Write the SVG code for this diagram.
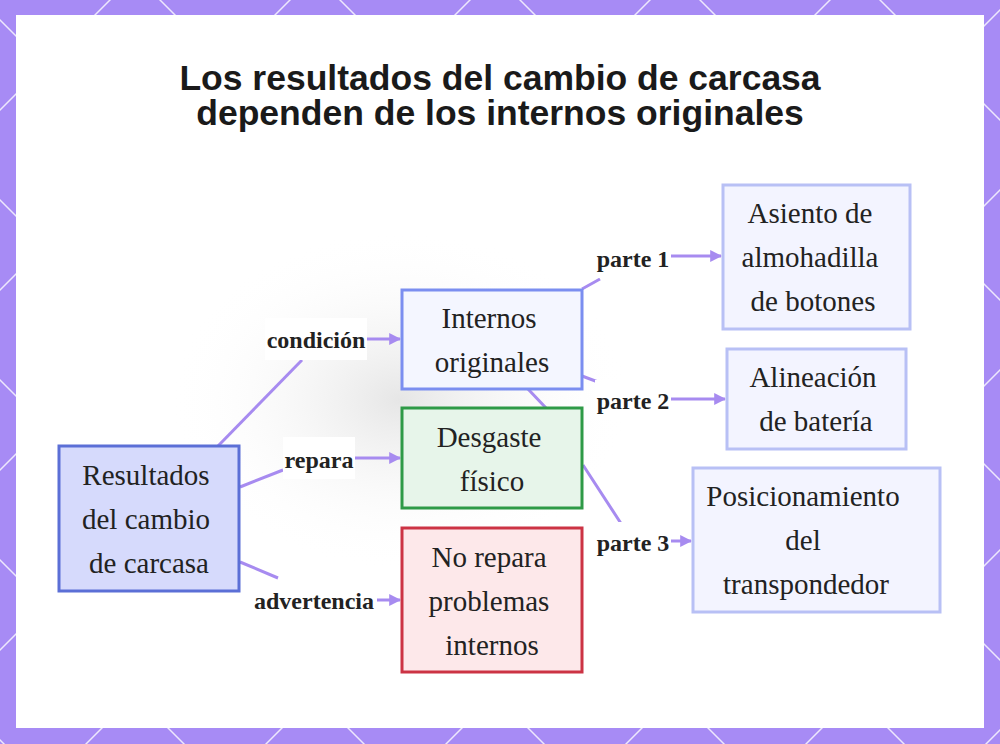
<svg xmlns="http://www.w3.org/2000/svg" width="1000" height="744" viewBox="0 0 1000 744">
<defs>
<pattern id="pat" width="180" height="180" patternUnits="userSpaceOnUse" x="-45" y="-25">
<path d="M0 0L180 180M180 0L0 180" stroke="#fff" stroke-width="1.5" opacity="0.8"/>
</pattern>
<marker id="ar" viewBox="0 0 10 10" refX="9" refY="5" markerWidth="4" markerHeight="4" orient="auto"><path d="M0 0L10 5L0 10z" fill="#a78bf0"/></marker>
<radialGradient id="g" cx="0.5" cy="0.5" r="0.5"><stop offset="0" stop-color="#e6e6e6"/><stop offset="1" stop-color="#fff" stop-opacity="0"/></radialGradient>
<style>
.ln{stroke:#a78bf0;stroke-width:3;fill:none}
.lb{font:bold 24px "Liberation Serif",serif;fill:#222;text-anchor:middle}
.nt{font:29px "Liberation Serif",serif;fill:#222;text-anchor:middle}
.lbg{fill:#fff}
</style>
</defs>
<rect width="1000" height="744" fill="#a78bf5"/>
<rect width="1000" height="744" fill="url(#pat)"/>
<rect x="16" y="15" width="968" height="713" fill="#fff"/>
<ellipse cx="400" cy="400" rx="230" ry="170" fill="url(#g)"/>
<text x="500" y="90" font-family="Liberation Sans,sans-serif" font-weight="bold" font-size="35.5" text-anchor="middle" fill="#1a1a1a">Los resultados del cambio de carcasa</text>
<text x="500" y="125" font-family="Liberation Sans,sans-serif" font-weight="bold" font-size="35.5" text-anchor="middle" fill="#1a1a1a">dependen de los internos originales</text>
<g id="connectors">
<path class="ln" d="M218 446L302 360"/>
<path class="ln" d="M366 339H400" marker-end="url(#ar)"/>
<path class="ln" d="M240 487L283 470"/>
<path class="ln" d="M354 458H400" marker-end="url(#ar)"/>
<path class="ln" d="M240 562L278 578"/>
<path class="ln" d="M376 600H400" marker-end="url(#ar)"/>
<path class="ln" d="M582 289L600 279"/>
<path class="ln" d="M670 256H721" marker-end="url(#ar)"/>
<path class="ln" d="M582 376L598 382"/>
<path class="ln" d="M670 399H725" marker-end="url(#ar)"/>
<path class="ln" d="M528 389L546 408M583 465L622 525"/>
<path class="ln" d="M670 541H691" marker-end="url(#ar)"/>
<rect class="lbg" x="265" y="318" width="102" height="42"/><text class="lb" x="316" y="348">condición</text>
<rect class="lbg" x="283" y="437" width="72" height="42"/><text class="lb" x="319" y="468">repara</text>
<rect class="lbg" x="250" y="580" width="127" height="40"/><text class="lb" x="314" y="609">advertencia</text>
<rect class="lbg" x="595" y="238" width="76" height="40"/><text class="lb" x="633" y="267">parte 1</text>
<rect class="lbg" x="595" y="380" width="76" height="40"/><text class="lb" x="633" y="409">parte 2</text>
<rect class="lbg" x="595" y="522" width="76" height="40"/><text class="lb" x="633" y="551">parte 3</text>
</g>
<g id="n-resultados"><rect x="59" y="446" width="180" height="145" fill="#d6dafc" stroke="#5b6fd6" stroke-width="3"/>
<text class="nt" x="146" y="485">Resultados</text><text class="nt" x="146" y="529">del cambio</text><text class="nt" x="149" y="573">de carcasa</text></g>
<g id="n-internos"><rect x="402" y="290" width="180" height="99" fill="#f4f6ff" stroke="#7b8ef0" stroke-width="3"/>
<text class="nt" x="489" y="328">Internos</text><text class="nt" x="492" y="372">originales</text></g>
<g id="n-desgaste"><rect x="402" y="408" width="180" height="100" fill="#e7f5ea" stroke="#2e9a47" stroke-width="3"/>
<text class="nt" x="489" y="447">Desgaste</text><text class="nt" x="492" y="491">físico</text></g>
<g id="n-norepara"><rect x="402" y="528" width="180" height="144" fill="#fde8ea" stroke="#cc3344" stroke-width="3"/>
<text class="nt" x="489" y="567">No repara</text><text class="nt" x="489" y="611">problemas</text><text class="nt" x="492" y="655">internos</text></g>
<g id="n-asiento"><rect x="723" y="185" width="187" height="144" fill="#f3f4ff" stroke="#b8c0f5" stroke-width="3"/>
<text class="nt" x="810" y="223">Asiento de</text><text class="nt" x="810" y="267">almohadilla</text><text class="nt" x="813" y="311">de botones</text></g>
<g id="n-alineacion"><rect x="727" y="349" width="179" height="100" fill="#f3f4ff" stroke="#b8c0f5" stroke-width="3"/>
<text class="nt" x="813" y="387">Alineación</text><text class="nt" x="816" y="431">de batería</text></g>
<g id="n-posicionamiento"><rect x="693" y="468" width="247" height="144" fill="#f3f4ff" stroke="#b8c0f5" stroke-width="3"/>
<text class="nt" x="803" y="506">Posicionamiento</text><text class="nt" x="803" y="550">del</text><text class="nt" x="806" y="594">transpondedor</text></g>
</svg>
